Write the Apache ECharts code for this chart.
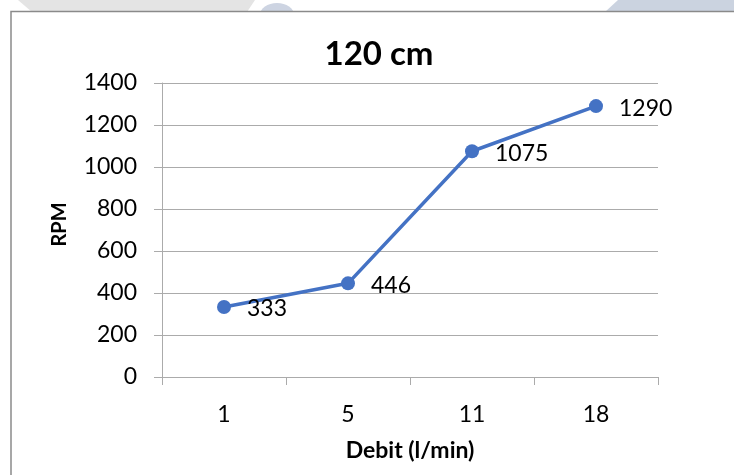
<!DOCTYPE html>
<html>
<head>
<meta charset="utf-8">
<style>
  html, body { margin: 0; padding: 0; background: #ffffff; }
  #chart { width: 734px; height: 475px; }
</style>
<script src="https://cdn.jsdelivr.net/npm/echarts@6/dist/echarts.min.js"></script>
</head>
<body>
<div id="chart"></div>
<script>
// Flow rate (l/min) vs rotational speed for the 120 cm configuration
const chartTitle = '120 cm';
const categories = ['1', '5', '11', '18'];
const rpmValues = [333, 446, 1075, 1290];
const xAxisName = 'Debit (l/min)';
const yAxisName = 'RPM';

const FONT = 'Lato, "Open Sans", sans-serif';
const GRID_GREY = '#ababab';
const LINE_BLUE = '#4472c4';

const chart = echarts.init(document.getElementById('chart'), null, { renderer: 'canvas' });

chart.setOption({
  backgroundColor: '#ffffff',
  animation: false,
  title: {
    text: chartTitle,
    left: 374,
    top: 33,
    textAlign: 'center',
    textStyle: { fontFamily: FONT, fontWeight: 'bold', fontSize: 33, color: '#000000' }
  },
  graphic: [
    // page strip above the chart frame
    { type: 'polygon', z: -20, shape: { points: [[18, 0], [255, 0], [247, 12], [32, 12]] }, style: { fill: '#e4e4e4' } },
    { type: 'ellipse', z: -20, shape: { cx: 277, cy: 15, rx: 17, ry: 12 }, style: { fill: '#cdd4e2' } },
    { type: 'polygon', z: -20, shape: { points: [[618, 0], [734, 0], [734, 12], [605, 12]] }, style: { fill: '#cbd3e0' } },
    // chart frame
    { type: 'rect', z: -10, shape: { x: 11, y: 11.5, width: 800, height: 600 }, style: { fill: '#ffffff', stroke: '#8a8a8a', lineWidth: 1.5 } }
  ],
  grid: { left: 162, right: 76, top: 83, bottom: 98, containLabel: false },
  xAxis: {
    type: 'category',
    data: categories,
    boundaryGap: true,
    name: xAxisName,
    nameLocation: 'middle',
    nameGap: 62,
    nameTextStyle: { fontFamily: FONT, fontWeight: 'bold', fontSize: 23, color: '#000000' },
    axisLine: { show: true, lineStyle: { color: GRID_GREY, width: 1 } },
    axisTick: { show: true, length: 8, lineStyle: { color: GRID_GREY } },
    axisLabel: { margin: 26, fontFamily: FONT, fontSize: 23, color: '#000000' },
    splitLine: { show: false }
  },
  yAxis: {
    type: 'value',
    min: 0,
    max: 1400,
    interval: 200,
    name: yAxisName,
    nameLocation: 'middle',
    nameGap: 92,
    nameRotate: 90,
    nameTextStyle: { fontFamily: FONT, fontWeight: 'bold', fontSize: 20, color: '#000000', padding: [0, 0, 0, 11] },
    axisLine: { show: true, lineStyle: { color: GRID_GREY, width: 1 } },
    axisTick: { show: true, length: 8, lineStyle: { color: GRID_GREY } },
    axisLabel: { margin: 25, fontFamily: FONT, fontSize: 23, color: '#000000', formatter: (v) => String(v) },
    splitLine: { show: true, lineStyle: { color: GRID_GREY, width: 1 } }
  },
  series: [{
    type: 'line',
    data: rpmValues,
    symbol: 'circle',
    symbolSize: 14,
    lineStyle: { color: LINE_BLUE, width: 3.5 },
    itemStyle: { color: LINE_BLUE },
    label: {
      show: true,
      position: 'right',
      distance: 16,
      offset: [0, 2],
      fontFamily: FONT,
      fontSize: 23,
      color: '#000000'
    }
  }]
});
</script>
</body>
</html>
